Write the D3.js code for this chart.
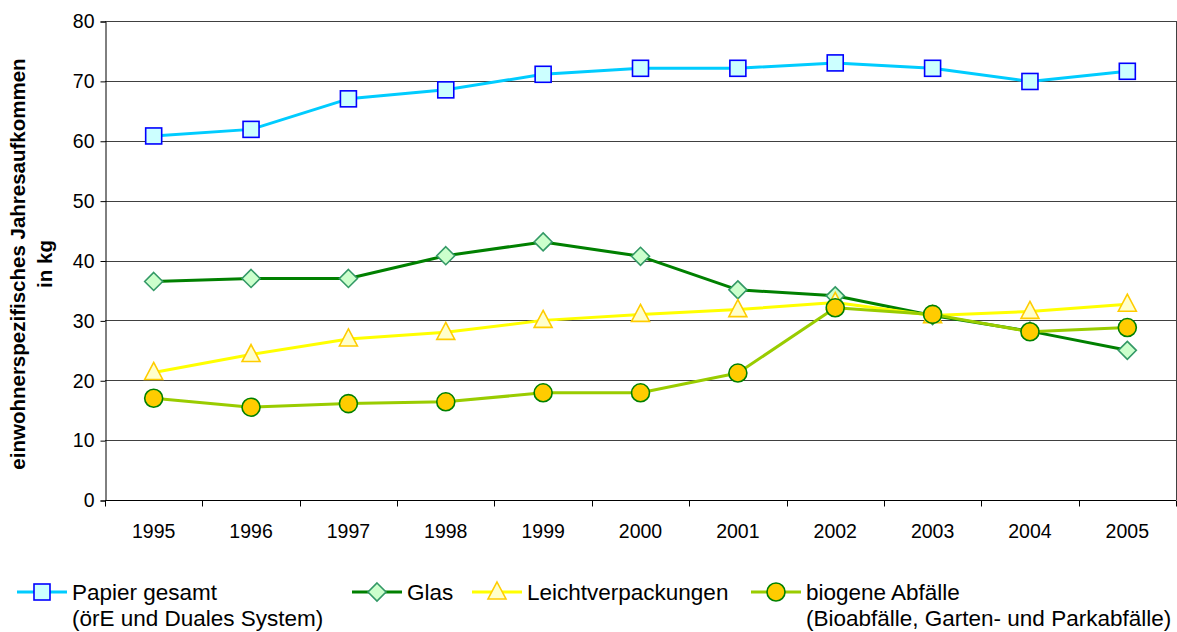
<!DOCTYPE html>
<html>
<head>
<meta charset="utf-8">
<script src="https://cdn.jsdelivr.net/npm/d3@7"></script>
<style>
  body { margin: 0; background: #fff; }
  svg { font-family: "Liberation Sans", Arial, sans-serif; }
</style>
</head>
<body>
<svg width="1177" height="632"></svg>
<script>
var years = ["1995", "1996", "1997", "1998", "1999", "2000", "2001", "2002", "2003", "2004", "2005"];
var papier = [60.8, 61.9, 67.0, 68.5, 71.1, 72.1, 72.1, 73.0, 72.1, 69.9, 71.6];
var glas = [36.5, 37.0, 37.0, 40.8, 43.1, 40.7, 35.1, 34.1, 30.8, 28.2, 25.0];
var leicht = [21.3, 24.3, 26.9, 28.0, 30.0, 31.0, 31.8, 33.0, 30.8, 31.5, 32.7];
var biogen = [17.0, 15.5, 16.1, 16.4, 17.9, 17.9, 21.2, 32.1, 31.0, 28.1, 28.8];
var yTicks = [0, 10, 20, 30, 40, 50, 60, 70, 80];

var series = [
  { name: ["Papier gesamt", "(örE und Duales System)"], values: papier, line: "#00ccff", shape: "square", fill: "#ccffff", stroke: "#0000ff", lx: 17 },
  { name: ["Glas"], values: glas, line: "#008000", shape: "diamond", fill: "#ccffcc", stroke: "#339966", lx: 352 },
  { name: ["Leichtverpackungen"], values: leicht, line: "#ffff00", shape: "triangle", fill: "#ffffcc", stroke: "#ffcc00", lx: 472 },
  { name: ["biogene Abfälle", "(Bioabfälle, Garten- und Parkabfälle)"], values: biogen, line: "#99cc00", shape: "circle", fill: "#ffcc00", stroke: "#008000", lx: 751 }
];

var svg = d3.select("svg");
var plotLeft = 105, plotRight = 1176, plotTop = 21, plotBottom = 500;

var x = d3.scaleBand().domain(years).range([plotLeft, plotRight]).padding(0);
var y = d3.scaleLinear().domain([0, 80]).range([plotBottom, plotTop]);

// gridlines
svg.append("g").selectAll("line")
  .data(yTicks.filter(function(d) { return d > 0; }))
  .enter().append("line")
  .attr("x1", plotLeft).attr("x2", plotRight)
  .attr("y1", function(d) { return Math.round(y(d)) + 0.5; })
  .attr("y2", function(d) { return Math.round(y(d)) + 0.5; })
  .attr("stroke", "#404040").attr("stroke-width", 1);

// right border
svg.append("line")
  .attr("x1", plotRight + 0.5).attr("x2", plotRight + 0.5)
  .attr("y1", plotTop).attr("y2", plotBottom)
  .attr("stroke", "#404040");

// y axis
var yAxis = svg.append("g")
  .attr("transform", "translate(" + (plotLeft + 0.5) + ",0.5)")
  .call(d3.axisLeft(y).tickValues(yTicks).tickSize(5).tickPadding(6));
yAxis.select(".domain").attr("stroke", "#000");
yAxis.selectAll("text").attr("font-size", 19.5).attr("fill", "#000").attr("font-family", "Liberation Sans, Arial, sans-serif");

// x axis
var xAxis = svg.append("g").attr("transform", "translate(0," + (plotBottom + 0.5) + ")");
xAxis.append("line").attr("x1", plotLeft).attr("x2", plotRight).attr("stroke", "#000");
xAxis.selectAll(".tk")
  .data(years.concat(["end"]))
  .enter().append("line")
  .attr("x1", function(d, i) { return Math.round(plotLeft + i * x.bandwidth()) + 0.5; })
  .attr("x2", function(d, i) { return Math.round(plotLeft + i * x.bandwidth()) + 0.5; })
  .attr("y1", 0).attr("y2", 6)
  .attr("stroke", "#000");
xAxis.selectAll("text")
  .data(years)
  .enter().append("text")
  .attr("x", function(d) { return x(d) + x.bandwidth() / 2; })
  .attr("y", 37)
  .attr("text-anchor", "middle")
  .attr("font-size", 19.5)
  .text(function(d) { return d; });

// y title
var yt = svg.append("text")
  .attr("transform", "translate(0,264) rotate(-90)")
  .attr("text-anchor", "middle")
  .attr("font-size", 20.5)
  .attr("font-weight", "bold");
yt.append("tspan").attr("x", 0).attr("y", 25).text("einwohnerspezifisches Jahresaufkommen");
yt.append("tspan").attr("x", 0).attr("y", 52).text("in kg");

function marker(g, shape, cx, cy, s) {
  var m;
  if (shape === "square") {
    m = g.append("rect").attr("x", cx - 8).attr("y", cy - 8).attr("width", 16).attr("height", 16);
  } else if (shape === "diamond") {
    m = g.append("path").attr("d", "M" + cx + "," + (cy - 9) + "L" + (cx + 9) + "," + cy + "L" + cx + "," + (cy + 9) + "L" + (cx - 9) + "," + cy + "Z");
  } else if (shape === "triangle") {
    m = g.append("path").attr("d", "M" + cx + "," + (cy - 10) + "L" + (cx + 9) + "," + (cy + 7) + "L" + (cx - 9) + "," + (cy + 7) + "Z");
  } else {
    m = g.append("circle").attr("cx", cx).attr("cy", cy).attr("r", 9);
  }
  m.attr("fill", s.fill).attr("stroke", s.stroke).attr("stroke-width", 1.6);
}

var line = d3.line()
  .x(function(d, i) { return x(years[i]) + x.bandwidth() / 2; })
  .y(function(d) { return y(d); });

series.forEach(function(s) {
  var g = svg.append("g");
  g.append("path")
    .attr("d", line(s.values))
    .attr("fill", "none")
    .attr("stroke", s.line)
    .attr("stroke-width", 3)
    .attr("stroke-linejoin", "round");
  s.values.forEach(function(v, i) {
    marker(g, s.shape, x(years[i]) + x.bandwidth() / 2, y(v), s);
  });

  // legend
  var lg = svg.append("g");
  lg.append("line")
    .attr("x1", s.lx).attr("x2", s.lx + 50)
    .attr("y1", 592).attr("y2", 592)
    .attr("stroke", s.line).attr("stroke-width", 3);
  marker(lg, s.shape, s.lx + 25, 592, s);
  var t = lg.append("text").attr("font-size", 22.5).attr("fill", "#000");
  s.name.forEach(function(n, k) {
    t.append("tspan").attr("x", s.lx + 55).attr("y", 600 + k * 26).text(n);
  });
});
</script>
</body>
</html>
